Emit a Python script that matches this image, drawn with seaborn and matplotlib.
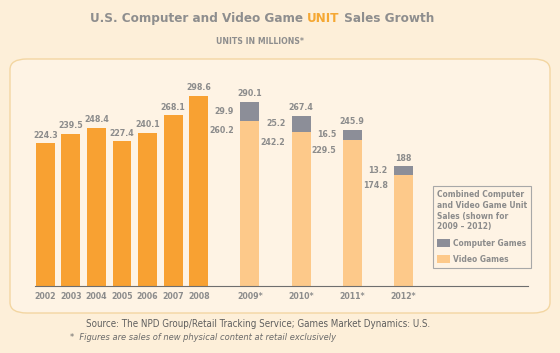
import matplotlib
matplotlib.use("Agg")
import matplotlib.pyplot as plt
from matplotlib.patches import FancyBboxPatch, Patch
import seaborn as sns
import pandas as pd

# data
early_years = ["2002", "2003", "2004", "2005", "2006", "2007", "2008"]
early_units = [224.3, 239.5, 248.4, 227.4, 240.1, 268.1, 298.6]
late_years = ["2009*", "2010*", "2011*", "2012*"]
late_total = [290.1, 267.4, 245.9, 188.0]
late_computer = [29.9, 25.2, 16.5, 13.2]
late_video = [260.2, 242.2, 229.5, 174.8]
total_labels = ["290.1", "267.4", "245.9", "188"]

BG = "#FDEFD9"
PANEL = "#FEF3E4"
ORANGE = "#F8A132"
LIGHT = "#FDC98A"
GRAY_BAR = "#8C8E98"
TXT = "#8C8C8C"
FONT = "DejaVu Sans"
SZ = 6.3

sns.set_theme(style="white")
plt.rcParams["font.family"] = [FONT]
plt.rcParams["font.stretch"] = "condensed"

fig = plt.figure(figsize=(5.6, 3.53), dpi=100, facecolor=BG)

# rounded panel behind the chart
panel = FancyBboxPatch((10 / 560, 1 - 313 / 353), 540 / 560, 254 / 353,
                       boxstyle="round,pad=0,rounding_size=0.03",
                       transform=fig.transFigure, facecolor=PANEL,
                       edgecolor="#F3D6A2", linewidth=1.0, zorder=-5)
fig.patches.append(panel)

ax = fig.add_axes([35 / 560, 1 - 286 / 353, 493 / 560, 214 / 353])
ax.set_facecolor("none")

early_pos = list(range(len(early_years)))
late_pos = [8, 10, 12, 14]
early_df = pd.DataFrame({"pos": early_pos, "units": early_units})
late_df = pd.DataFrame({"pos": late_pos, "total": late_total, "video": late_video})

sns.barplot(data=early_df, x="pos", y="units", native_scale=True, color=ORANGE,
            saturation=1, width=0.74, linewidth=0, ax=ax)
sns.barplot(data=late_df, x="pos", y="total", native_scale=True, color=GRAY_BAR,
            saturation=1, width=0.37, linewidth=0, ax=ax)
sns.barplot(data=late_df, x="pos", y="video", native_scale=True, color=LIGHT,
            saturation=1, width=0.37, linewidth=0, ax=ax)

lab = dict(color=TXT, fontsize=SZ, fontweight="bold", fontstretch="condensed")
for x, v in zip(early_pos, early_units):
    ax.text(x, v + 6, f"{v}", ha="center", va="bottom", **lab)
for x, t, c, v, tl in zip(late_pos, late_total, late_computer, late_video, total_labels):
    ax.text(x, t + 6, tl, ha="center", va="bottom", **lab)
    ax.text(x - 0.62, t - c / 2, f"{c}", ha="right", va="center", **lab)
    ax.text(x - 0.62, v - 9, f"{v}", ha="right", va="top", **lab)

ax.set_xlim(-0.4, 18.87)
ax.set_ylim(0, 336.5)
ax.set_xticks(early_pos + late_pos)
ax.set_xticklabels(early_years + late_years)
ax.tick_params(axis="x", length=0, pad=4, labelsize=SZ, labelcolor=TXT)
for t in ax.get_xticklabels():
    t.set_fontweight("bold")
    t.set_fontstretch("condensed")
ax.set_yticks([])
ax.set_xlabel("")
ax.set_ylabel("")
for side in ["top", "right", "left"]:
    ax.spines[side].set_visible(False)
ax.spines["bottom"].set_color("#6E6E6E")
ax.spines["bottom"].set_linewidth(0.8)

handles = [Patch(facecolor=GRAY_BAR, edgecolor="none", label="Computer Games"),
           Patch(facecolor=LIGHT, edgecolor="none", label="Video Games")]
fp = {"family": FONT, "weight": "bold", "size": 6.0, "stretch": "condensed"}
leg = ax.legend(handles=handles,
                title="Combined Computer\nand Video Game Unit\nSales (shown for\n2009 – 2012)",
                loc="lower left", bbox_to_anchor=(433 / 560, 1 - 268 / 353),
                bbox_transform=fig.transFigure, frameon=True, fancybox=False,
                facecolor=PANEL, edgecolor="#A8A8A8", framealpha=1,
                prop=fp, title_fontproperties=fp,
                handlelength=1.55, handleheight=1.2, handletextpad=0.3,
                labelspacing=0.85, borderpad=0.5, borderaxespad=0)
leg._legend_box.align = "left"
leg.get_title().set_color(TXT)
leg.get_title().set_linespacing(1.25)
leg.get_frame().set_linewidth(0.8)
for t in leg.get_texts():
    t.set_color(TXT)

# title with the orange UNIT word
tf = dict(fontsize=9.6, fontweight="bold", fontstretch="condensed")
t1 = fig.text(90 / 560, 1 - 22 / 353, "U.S. Computer and Video Game ", color="#8E8E8E",
              ha="left", va="baseline", **tf)
t2 = ax.annotate("UNIT", xy=(1, 0), xycoords=t1, va="bottom", ha="left",
                 color="#F5A834", **tf)
ax.annotate(" Sales Growth", xy=(1, 0), xycoords=t2, va="bottom", ha="left",
            color="#8E8E8E", **tf)
fig.text(260 / 560, 1 - 41 / 353, "UNITS IN MILLIONS*", ha="center", va="center",
         color="#8E8E8E", fontsize=6.2, fontweight="bold", fontstretch="condensed")

fig.text(258 / 560, 1 - 324 / 353,
         "Source: The NPD Group/Retail Tracking Service; Games Market Dynamics: U.S.",
         ha="center", va="center", color="#5E5E5E", fontsize=7.0, fontstretch="condensed")
fig.text(70 / 560, 1 - 338 / 353,
         "*  Figures are sales of new physical content at retail exclusively",
         ha="left", va="center", color="#6A6A6A", fontsize=6.7, style="italic",
         fontstretch="condensed")

fig.savefig("out.png", dpi=100, facecolor=BG)
